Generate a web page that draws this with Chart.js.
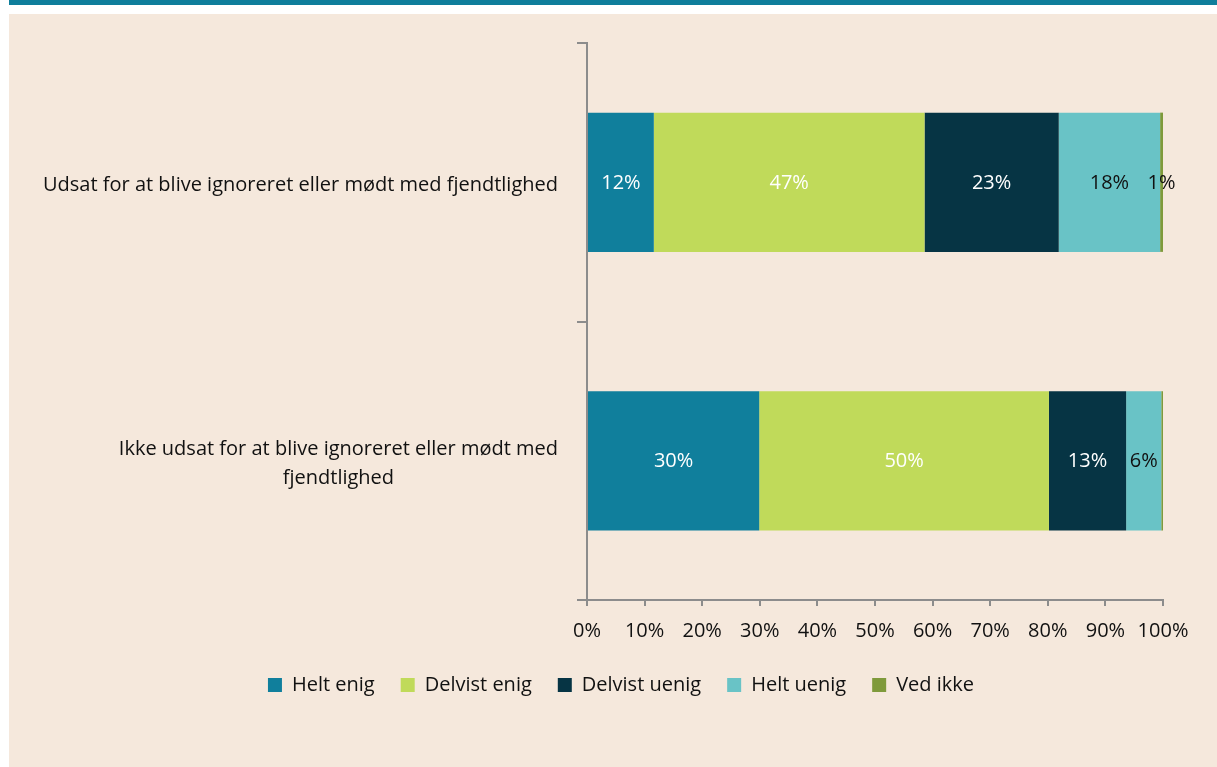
<!DOCTYPE html>
<html>
<head>
<meta charset="utf-8">
<script src="https://cdn.jsdelivr.net/npm/chart.js@4"></script>
<style>
  body { margin: 0; background: #ffffff; width: 1217px; height: 767px; position: relative; overflow: hidden; }
  #topbar { position: absolute; left: 9px; top: 0; width: 1208px; height: 5px; background: #0f7e9b; }
  #panel { position: absolute; left: 9px; top: 14px; width: 1208px; height: 753px; background: #f5e8dc; }
</style>
</head>
<body>
<div id="topbar"></div>
<div id="panel"><canvas id="chart" width="1208" height="753"></canvas></div>
<script>
// --- DATA ---
const categories = [
  "Udsat for at blive ignoreret eller mødt med fjendtlighed",
  ["Ikke udsat for at blive ignoreret eller mødt med", "fjendtlighed"],
];
const seriesNames = ["Helt enig", "Delvist enig", "Delvist uenig", "Helt uenig", "Ved ikke"];
const heltEnig = [11.6, 29.9];
const delvistEnig = [47.0, 50.3];
const delvistUenig = [23.3, 13.4];
const heltUenig = [17.6, 6.1];
const vedIkke = [0.5, 0.3];
const tickValues = [0, 10, 20, 30, 40, 50, 60, 70, 80, 90, 100];

// --- STYLE ---
const colors = ["#107f9c", "#c0da5a", "#063444", "#69c3c6", "#7f9a3b"];
const labelColors = ["#ffffff", "#ffffff", "#ffffff", "#111111", "#111111"];
const FONT = "'Open Sans', sans-serif";
const FS = 20;
const AXIS = "#8c8c8c";

const seriesValues = [heltEnig, delvistEnig, delvistUenig, heltUenig, vedIkke];

// segment labels (rounded %), hidden when they round to 0
const barLabels = {
  id: "barLabels",
  afterDatasetsDraw(chart) {
    const ctx = chart.ctx;
    ctx.save();
    ctx.font = FS + "px " + FONT;
    ctx.textAlign = "center";
    ctx.textBaseline = "middle";
    chart.data.datasets.forEach((ds, i) => {
      chart.getDatasetMeta(i).data.forEach((bar, j) => {
        const v = Math.round(ds.data[j]);
        if (v < 1) return;
        ctx.fillStyle = labelColors[i];
        ctx.fillText(v + "%", (bar.x + bar.base) / 2, bar.y + 1);
      });
    });
    ctx.restore();
  },
};

// category labels: block right-aligned, lines centred within it
const catLabels = {
  id: "catLabels",
  afterDraw(chart) {
    const ctx = chart.ctx;
    const y = chart.scales.y;
    const right = chart.chartArea.left - 29;
    ctx.save();
    ctx.font = FS + "px " + FONT;
    ctx.fillStyle = "#111111";
    ctx.textAlign = "center";
    ctx.textBaseline = "middle";
    categories.forEach((c, i) => {
      const lines = Array.isArray(c) ? c : [c];
      const w = Math.max(...lines.map((l) => ctx.measureText(l).width));
      const cy = y.getPixelForValue(i) + 3;
      const lh = 29;
      lines.forEach((l, k) => {
        ctx.fillText(l, right - w / 2, cy + (k - (lines.length - 1) / 2) * lh);
      });
    });
    ctx.restore();
  },
};

new Chart(document.getElementById("chart"), {
  type: "bar",
  data: {
    labels: categories.map((c) => (Array.isArray(c) ? c.join(" ") : c)),
    datasets: seriesNames.map((name, i) => ({
      label: name,
      data: seriesValues[i],
      backgroundColor: colors[i],
      borderWidth: 0,
      categoryPercentage: 1,
      barPercentage: 0.5,
    })),
  },
  options: {
    indexAxis: "y",
    responsive: false,
    animation: false,
    layout: { padding: { left: 70, right: 54, top: 29, bottom: 62 } },
    plugins: {
      tooltip: { enabled: false },
      legend: {
        position: "bottom",
        labels: {
          font: { family: FONT, size: FS },
          color: "#111111",
          boxWidth: 14,
          boxHeight: 14,
          padding: 26,
        },
      },
    },
    scales: {
      x: {
        stacked: true,
        min: 0,
        max: 100,
        afterBuildTicks: (s) => { s.ticks = tickValues.map((v) => ({ value: v })); },
        afterFit: (s) => { s.height -= 7; },
        border: { color: AXIS, width: 2 },
        grid: { drawOnChartArea: false, drawTicks: true, tickLength: 6, color: AXIS, lineWidth: 2 },
        ticks: {
          font: { family: FONT, size: FS },
          color: "#111111",
          padding: 13,
          maxRotation: 0,
          callback: (v) => v + "%",
        },
      },
      y: {
        stacked: true,
        offset: true,
        afterFit: (s) => { s.width = 508; },
        border: { color: AXIS, width: 2 },
        grid: { offset: true, drawOnChartArea: false, drawTicks: true, tickLength: 10, color: AXIS, lineWidth: 2 },
        ticks: { display: false },
      },
    },
  },
  plugins: [barLabels, catLabels],
});
</script>
</body>
</html>
